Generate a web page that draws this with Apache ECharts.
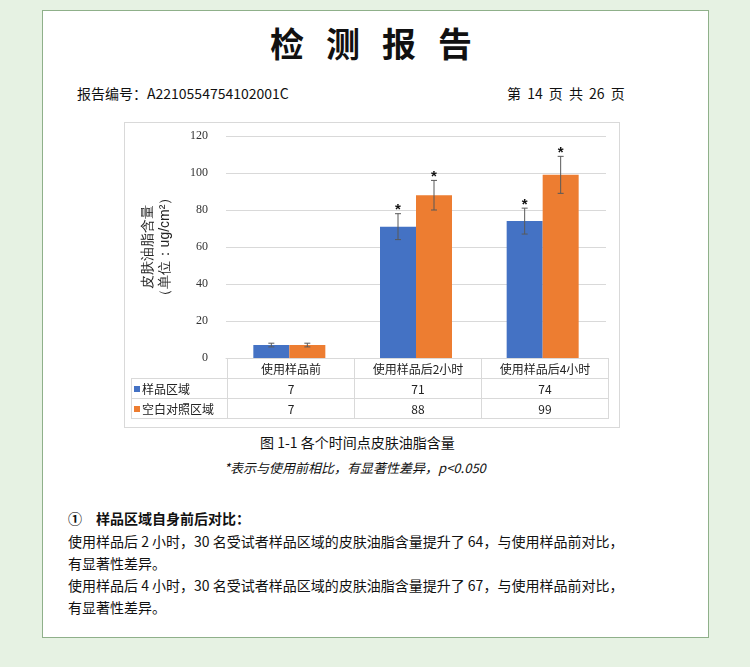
<!DOCTYPE html>
<html><head><meta charset="utf-8">
<script src="https://cdn.jsdelivr.net/npm/echarts@6/dist/echarts.min.js"></script>
<style>
body{margin:0;width:750px;height:667px;background:#e6f2e3;font-family:"Noto Sans CJK SC",sans-serif;position:relative;overflow:hidden}
#page{position:absolute;left:42px;top:10px;width:665px;height:626px;background:#fff;border:1px solid #8fb08a}
.t{position:absolute;color:#111;white-space:nowrap}
#chart{position:absolute;left:124px;top:122px;width:496px;height:306px;border:1px solid #d9d9d9;box-sizing:border-box}
table{position:absolute;left:131px;top:358px;border-collapse:collapse;font-size:12px;color:#222}
td{border:1px solid #d9d9d9;height:19px;text-align:center;padding:0;width:126px}
td.l{width:93px;text-align:left;padding-left:2px}
.sq{display:inline-block;width:6px;height:6px;margin-right:2px;vertical-align:2px}
</style></head><body>
<div id="page"></div>
<div class="t" style="left:270px;top:18px;font-size:34px;font-weight:bold;letter-spacing:22px">检测报告</div>
<div class="t" style="left:77px;top:83px;font-size:14px">报告编号：A2210554754102001C</div>
<div class="t" style="left:507px;top:83px;font-size:14px;word-spacing:3px">第 14 页 共 26 页</div>
<div id="chart"></div>
<table>
<tr><td class="l" style="border-top:none;border-left:none"></td><td>使用样品前</td><td>使用样品后2小时</td><td>使用样品后4小时</td></tr>
<tr><td class="l"><span class="sq" style="background:#4472c4"></span>样品区域</td><td id="a0"></td><td id="a1"></td><td id="a2"></td></tr>
<tr><td class="l"><span class="sq" style="background:#ed7d31"></span>空白对照区域</td><td id="b0"></td><td id="b1"></td><td id="b2"></td></tr>
</table>
<div class="t" style="left:260px;top:432px;font-size:14px">图 1-1 各个时间点皮肤油脂含量</div>
<div class="t" style="left:224px;top:458px;font-size:13px;font-style:italic">*表示与使用前相比，有显著性差异，p&lt;0.050</div>
<div class="t" style="left:68px;top:508px;font-size:14px;font-weight:bold">①　样品区域自身前后对比：</div>
<div class="t" style="left:68px;top:530px;font-size:14px;line-height:22px">使用样品后 2 小时，30 名受试者样品区域的皮肤油脂含量提升了 64，与使用样品前对比，<br>有显著性差异。<br>使用样品后 4 小时，30 名受试者样品区域的皮肤油脂含量提升了 67，与使用样品前对比，<br>有显著性差异。</div>
<script>
const categories=["使用样品前","使用样品后2小时","使用样品后4小时"];
const sampleVals=[7,71,74];
const controlVals=[7,88,99];
const sampleErr=[1,7,7];
const controlErr=[1,8,10];
const sampleSig=[false,true,true];
const controlSig=[false,true,true];
const yTicks=[0,20,40,60,80,100,120];
sampleVals.forEach((v,i)=>document.getElementById('a'+i).textContent=v);
controlVals.forEach((v,i)=>document.getElementById('b'+i).textContent=v);
const c=echarts.init(document.getElementById('chart'));
function errSeries(vals,errs,sig,off){
 return {type:'custom',z:5,data:vals.map((v,i)=>[i,v,errs[i],sig[i]?1:0]),
 renderItem(p,api){const x=api.coord([api.value(0),0])[0]+off;
  const hi=api.coord([0,api.value(1)+api.value(2)])[1],lo=api.coord([0,api.value(1)-api.value(2)])[1];
  const st={stroke:'#595959',lineWidth:1};
  const ch=[{type:'line',shape:{x1:x,y1:hi,x2:x,y2:lo},style:st},
   {type:'line',shape:{x1:x-3,y1:hi,x2:x+3,y2:hi},style:st},
   {type:'line',shape:{x1:x-3,y1:lo,x2:x+3,y2:lo},style:st}];
  if(api.value(3))ch.push({type:'text',style:{text:'*',x:x,y:hi+4,align:'center',verticalAlign:'bottom',font:'bold 15px sans-serif',fill:'#111'}});
  return {type:'group',children:ch};}};
}
c.setOption({animation:false,
 grid:{left:101,top:13,right:13,bottom:69},
 xAxis:{type:'category',data:categories,axisLabel:{show:false},axisTick:{show:false},axisLine:{lineStyle:{color:'#d9d9d9'}}},
 yAxis:{type:'value',min:0,max:120,interval:20,axisLine:{show:false},axisTick:{show:false},
  splitLine:{lineStyle:{color:'#d9d9d9'}},axisLabel:{color:'#333',fontSize:12,margin:18,fontFamily:'Liberation Serif'},
  name:'皮肤油脂含量\n（单位：ug/cm²）',nameLocation:'middle',nameRotate:90,nameGap:52,nameTextStyle:{fontSize:14,color:'#222',lineHeight:17}},
 series:[
  {type:'bar',data:sampleVals,barWidth:36,barGap:'0%',itemStyle:{color:'#4472c4'}},
  {type:'bar',data:controlVals,barWidth:36,itemStyle:{color:'#ed7d31'}},
  errSeries(sampleVals,sampleErr,sampleSig,-18),
  errSeries(controlVals,controlErr,controlSig,18)
 ]});
</script></body></html>
